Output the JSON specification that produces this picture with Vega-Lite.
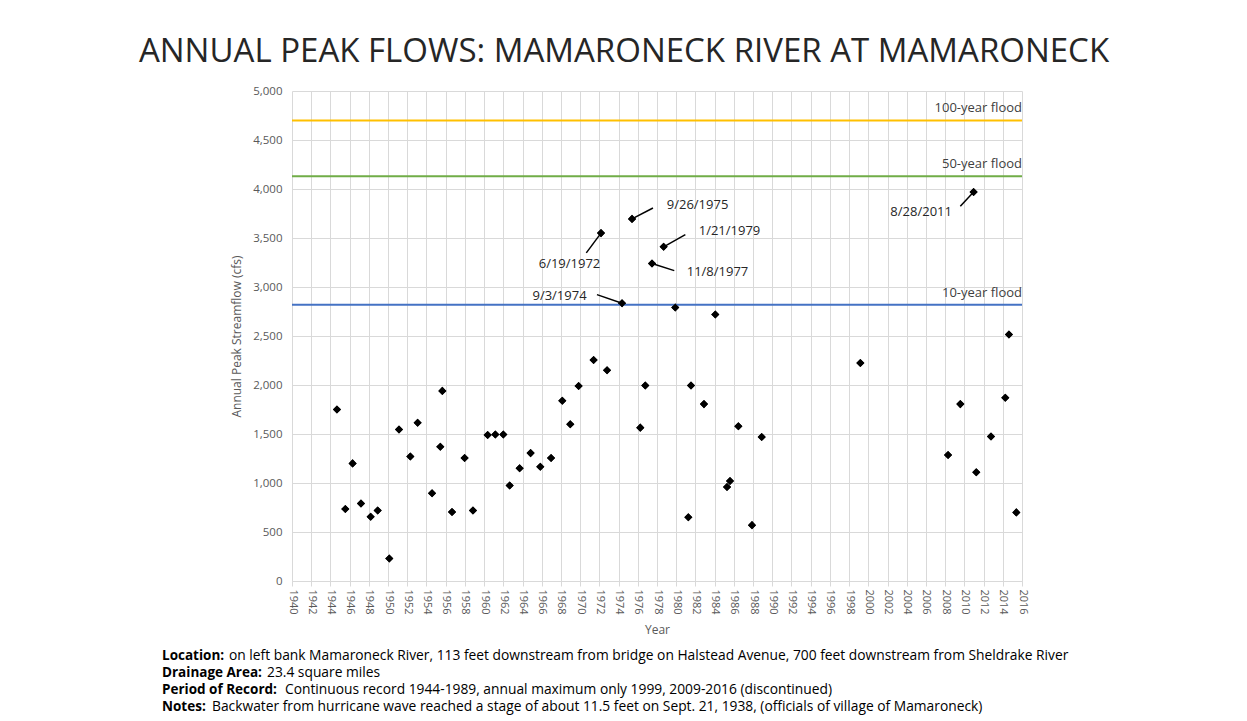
{
  "$schema": "https://vega.github.io/schema/vega-lite/v6.json",
  "width": 730,
  "height": 490,
  "autosize": {"type": "none"},
  "padding": {"left": 292, "top": 91, "right": 225, "bottom": 140},
  "background": "white",
  "config": {"view": {"stroke": null}, "font": "Open Sans"},
  "title": {
    "text": "ANNUAL PEAK FLOWS: MAMARONECK RIVER AT MAMARONECK",
    "font": "Open Sans",
    "fontSize": 33,
    "fontWeight": "normal",
    "color": "#262626",
    "anchor": "middle",
    "offset": 16,
    "dx": -33
  },
  "datasets": {
    "peaks": [
      {"year": 1944.68, "cfs": 1750}, {"year": 1945.55, "cfs": 735}, {"year": 1946.31, "cfs": 1200},
      {"year": 1947.18, "cfs": 790}, {"year": 1948.19, "cfs": 655}, {"year": 1948.92, "cfs": 720},
      {"year": 1950.13, "cfs": 230}, {"year": 1951.14, "cfs": 1545}, {"year": 1952.32, "cfs": 1270},
      {"year": 1953.08, "cfs": 1615}, {"year": 1954.58, "cfs": 895}, {"year": 1955.44, "cfs": 1370},
      {"year": 1955.65, "cfs": 1940}, {"year": 1956.66, "cfs": 705}, {"year": 1957.97, "cfs": 1255},
      {"year": 1958.84, "cfs": 720}, {"year": 1960.37, "cfs": 1490}, {"year": 1961.17, "cfs": 1495},
      {"year": 1962.0, "cfs": 1495}, {"year": 1962.66, "cfs": 975}, {"year": 1963.7, "cfs": 1150},
      {"year": 1964.84, "cfs": 1305}, {"year": 1965.85, "cfs": 1165}, {"year": 1966.97, "cfs": 1255},
      {"year": 1968.14, "cfs": 1840}, {"year": 1968.97, "cfs": 1600}, {"year": 1969.84, "cfs": 1990},
      {"year": 1971.4, "cfs": 2255}, {"year": 1972.17, "cfs": 3550}, {"year": 1972.8, "cfs": 2150},
      {"year": 1974.36, "cfs": 2835}, {"year": 1975.4, "cfs": 3695}, {"year": 1976.26, "cfs": 1565},
      {"year": 1976.78, "cfs": 1995}, {"year": 1977.48, "cfs": 3240}, {"year": 1978.69, "cfs": 3410},
      {"year": 1979.9, "cfs": 2790}, {"year": 1981.26, "cfs": 650}, {"year": 1981.54, "cfs": 1995},
      {"year": 1982.89, "cfs": 1805}, {"year": 1984.07, "cfs": 2720}, {"year": 1985.29, "cfs": 960},
      {"year": 1985.6, "cfs": 1020}, {"year": 1986.47, "cfs": 1580}, {"year": 1987.89, "cfs": 570},
      {"year": 1988.9, "cfs": 1470}, {"year": 1999.17, "cfs": 2225}, {"year": 2008.3, "cfs": 1285},
      {"year": 2009.58, "cfs": 1805}, {"year": 2010.96, "cfs": 3970}, {"year": 2011.24, "cfs": 1110},
      {"year": 2012.77, "cfs": 1475}, {"year": 2014.26, "cfs": 1870}, {"year": 2014.64, "cfs": 2515},
      {"year": 2015.41, "cfs": 700}
    ],
    "floods": [
      {"flood": "100-year flood", "cfs": 4700},
      {"flood": "50-year flood", "cfs": 4130},
      {"flood": "10-year flood", "cfs": 2820}
    ],
    "events": [
      {"date": "6/19/1972", "year": 1972.17, "cfs": 3550, "lineYear": 1970.64, "lineCfs": 3348, "textYear": 1968.89, "textCfs": 3235},
      {"date": "9/3/1974", "year": 1974.36, "cfs": 2835, "lineYear": 1971.75, "lineCfs": 2922, "textYear": 1967.85, "textCfs": 2912},
      {"date": "9/26/1975", "year": 1975.4, "cfs": 3695, "lineYear": 1977.58, "lineCfs": 3806, "textYear": 1982.22, "textCfs": 3840},
      {"date": "1/21/1979", "year": 1978.69, "cfs": 3410, "lineYear": 1980.95, "lineCfs": 3534, "textYear": 1985.55, "textCfs": 3568},
      {"date": "11/8/1977", "year": 1977.48, "cfs": 3240, "lineYear": 1979.8, "lineCfs": 3167, "textYear": 1984.3, "textCfs": 3150},
      {"date": "8/28/2011", "year": 2010.96, "cfs": 3970, "lineYear": 2009.58, "lineCfs": 3823, "textYear": 2005.5, "textCfs": 3761}
    ],
    "notes": [
      {"line": 1, "label": "Location:", "text": "on left bank Mamaroneck River, 113 feet downstream from bridge on Halstead Avenue, 700 feet downstream from Sheldrake River"},
      {"line": 2, "label": "Drainage Area:", "text": "23.4 square miles"},
      {"line": 3, "label": "Period of Record:", "text": "Continuous record 1944-1989, annual maximum only 1999, 2009-2016 (discontinued)"},
      {"line": 4, "label": "Notes:", "text": "Backwater from hurricane wave reached a stage of about 11.5 feet on Sept. 21, 1938, (officials of village of Mamaroneck)"}
    ]
  },
  "layer": [
    {
      "data": {"name": "peaks"},
      "mark": {"type": "point", "shape": "diamond", "filled": true, "color": "#000000", "size": 65, "opacity": 1},
      "encoding": {
        "x": {
          "field": "year", "type": "quantitative",
          "scale": {"domain": [1940, 2016], "nice": false, "zero": false},
          "axis": {
            "title": "Year",
            "values": [1940,1942,1944,1946,1948,1950,1952,1954,1956,1958,1960,1962,1964,1966,1968,1970,1972,1974,1976,1978,1980,1982,1984,1986,1988,1990,1992,1994,1996,1998,2000,2002,2004,2006,2008,2010,2012,2014,2016],
            "format": "d",
            "labelAngle": 90,
            "labelFont": "Open Sans",
            "labelFontSize": 11,
            "labelColor": "#595959",
            "labelPadding": 3,
            "labelOverlap": false,
            "labelFlush": false,
            "grid": true,
            "gridColor": "#D9D9D9",
            "gridWidth": 1,
            "domainColor": "#D9D9D9",
            "ticks": true,
            "tickColor": "#D9D9D9",
            "tickSize": 5,
            "titleFont": "Open Sans",
            "titleFontSize": 12,
            "titleFontWeight": "normal",
            "titleColor": "#595959",
            "titlePadding": 10
          }
        },
        "y": {
          "field": "cfs", "type": "quantitative",
          "scale": {"domain": [0, 5000], "nice": false},
          "axis": {
            "title": "Annual Peak Streamflow (cfs)",
            "values": [0,500,1000,1500,2000,2500,3000,3500,4000,4500,5000],
            "format": ",.0f",
            "labelFont": "Open Sans",
            "labelFontSize": 11.5,
            "labelColor": "#595959",
            "labelPadding": 10,
            "grid": true,
            "gridColor": "#D9D9D9",
            "gridWidth": 1,
            "domain": false,
            "ticks": false,
            "titleFont": "Open Sans",
            "titleFontSize": 12,
            "titleFontWeight": "normal",
            "titleColor": "#595959",
            "titlePadding": 9
          }
        }
      }
    },
    {
      "data": {"name": "floods"},
      "mark": {"type": "rule", "strokeWidth": 2},
      "encoding": {
        "y": {"field": "cfs", "type": "quantitative", "scale": {"domain": [0, 5000], "nice": false}, "axis": null},
        "color": {"field": "flood", "type": "nominal", "scale": {"domain": ["100-year flood", "50-year flood", "10-year flood"], "range": ["#FFC000", "#70AD47", "#4472C4"]}, "legend": null}
      }
    },
    {
      "data": {"name": "floods"},
      "mark": {"type": "text", "align": "right", "baseline": "middle", "dy": -12, "fontSize": 13, "font": "Open Sans", "color": "#404040"},
      "encoding": {
        "x": {"datum": 2016, "type": "quantitative", "scale": {"domain": [1940, 2016], "nice": false, "zero": false}, "axis": null},
        "y": {"field": "cfs", "type": "quantitative", "scale": {"domain": [0, 5000], "nice": false}, "axis": null},
        "text": {"field": "flood"}
      }
    },
    {
      "data": {"name": "events"},
      "mark": {"type": "rule", "color": "#000000", "strokeWidth": 1.5},
      "encoding": {
        "x": {"field": "year", "type": "quantitative", "scale": {"domain": [1940, 2016], "nice": false, "zero": false}, "axis": null},
        "y": {"field": "cfs", "type": "quantitative", "scale": {"domain": [0, 5000], "nice": false}, "axis": null},
        "x2": {"field": "lineYear"},
        "y2": {"field": "lineCfs"}
      }
    },
    {
      "data": {"name": "peaks"},
      "mark": {"type": "point", "shape": "diamond", "filled": true, "color": "#000000", "size": 65, "opacity": 1},
      "encoding": {
        "x": {"field": "year", "type": "quantitative", "scale": {"domain": [1940, 2016], "nice": false, "zero": false}, "axis": null},
        "y": {"field": "cfs", "type": "quantitative", "scale": {"domain": [0, 5000], "nice": false}, "axis": null}
      }
    },
    {
      "data": {"name": "events"},
      "mark": {"type": "text", "align": "center", "baseline": "middle", "fontSize": 13, "font": "Open Sans", "color": "#262626"},
      "encoding": {
        "x": {"field": "textYear", "type": "quantitative", "scale": {"domain": [1940, 2016], "nice": false, "zero": false}, "axis": null},
        "y": {"field": "textCfs", "type": "quantitative", "scale": {"domain": [0, 5000], "nice": false}, "axis": null},
        "text": {"field": "date"}
      }
    },
    {
      "data": {"name": "notes"},
      "mark": {"type": "text", "align": "left", "baseline": "middle", "fontSize": 13.5, "font": "Open Sans", "fontWeight": "bold", "color": "#000000"},
      "encoding": {
        "x": {"datum": 0, "type": "quantitative", "scale": {"domain": [0, 1], "range": [-130, 600]}, "axis": null},
        "y": {"field": "line", "type": "quantitative", "scale": {"domain": [1, 4], "range": [565, 616]}, "axis": null},
        "text": {"field": "label"}
      }
    },
    {
      "data": {"name": "notes"},
      "transform": [{"filter": "datum.line == 1"}],
      "mark": {"type": "text", "align": "left", "baseline": "middle", "fontSize": 13.8, "font": "Open Sans", "color": "#000000", "dx": 67},
      "encoding": {
        "x": {"datum": 0, "type": "quantitative", "scale": {"domain": [0, 1], "range": [-130, 600]}, "axis": null},
        "y": {"field": "line", "type": "quantitative", "scale": {"domain": [1, 4], "range": [565, 616]}, "axis": null},
        "text": {"field": "text"}
      }
    },
    {
      "data": {"name": "notes"},
      "transform": [{"filter": "datum.line == 2"}],
      "mark": {"type": "text", "align": "left", "baseline": "middle", "fontSize": 13.8, "font": "Open Sans", "color": "#000000", "dx": 105},
      "encoding": {
        "x": {"datum": 0, "type": "quantitative", "scale": {"domain": [0, 1], "range": [-130, 600]}, "axis": null},
        "y": {"field": "line", "type": "quantitative", "scale": {"domain": [1, 4], "range": [565, 616]}, "axis": null},
        "text": {"field": "text"}
      }
    },
    {
      "data": {"name": "notes"},
      "transform": [{"filter": "datum.line == 3"}],
      "mark": {"type": "text", "align": "left", "baseline": "middle", "fontSize": 13.8, "font": "Open Sans", "color": "#000000", "dx": 123},
      "encoding": {
        "x": {"datum": 0, "type": "quantitative", "scale": {"domain": [0, 1], "range": [-130, 600]}, "axis": null},
        "y": {"field": "line", "type": "quantitative", "scale": {"domain": [1, 4], "range": [565, 616]}, "axis": null},
        "text": {"field": "text"}
      }
    },
    {
      "data": {"name": "notes"},
      "transform": [{"filter": "datum.line == 4"}],
      "mark": {"type": "text", "align": "left", "baseline": "middle", "fontSize": 13.8, "font": "Open Sans", "color": "#000000", "dx": 50},
      "encoding": {
        "x": {"datum": 0, "type": "quantitative", "scale": {"domain": [0, 1], "range": [-130, 600]}, "axis": null},
        "y": {"field": "line", "type": "quantitative", "scale": {"domain": [1, 4], "range": [565, 616]}, "axis": null},
        "text": {"field": "text"}
      }
    }
  ],
  "resolve": {"scale": {"x": "independent", "y": "independent", "color": "independent"}, "axis": {"x": "independent", "y": "independent"}}
}
